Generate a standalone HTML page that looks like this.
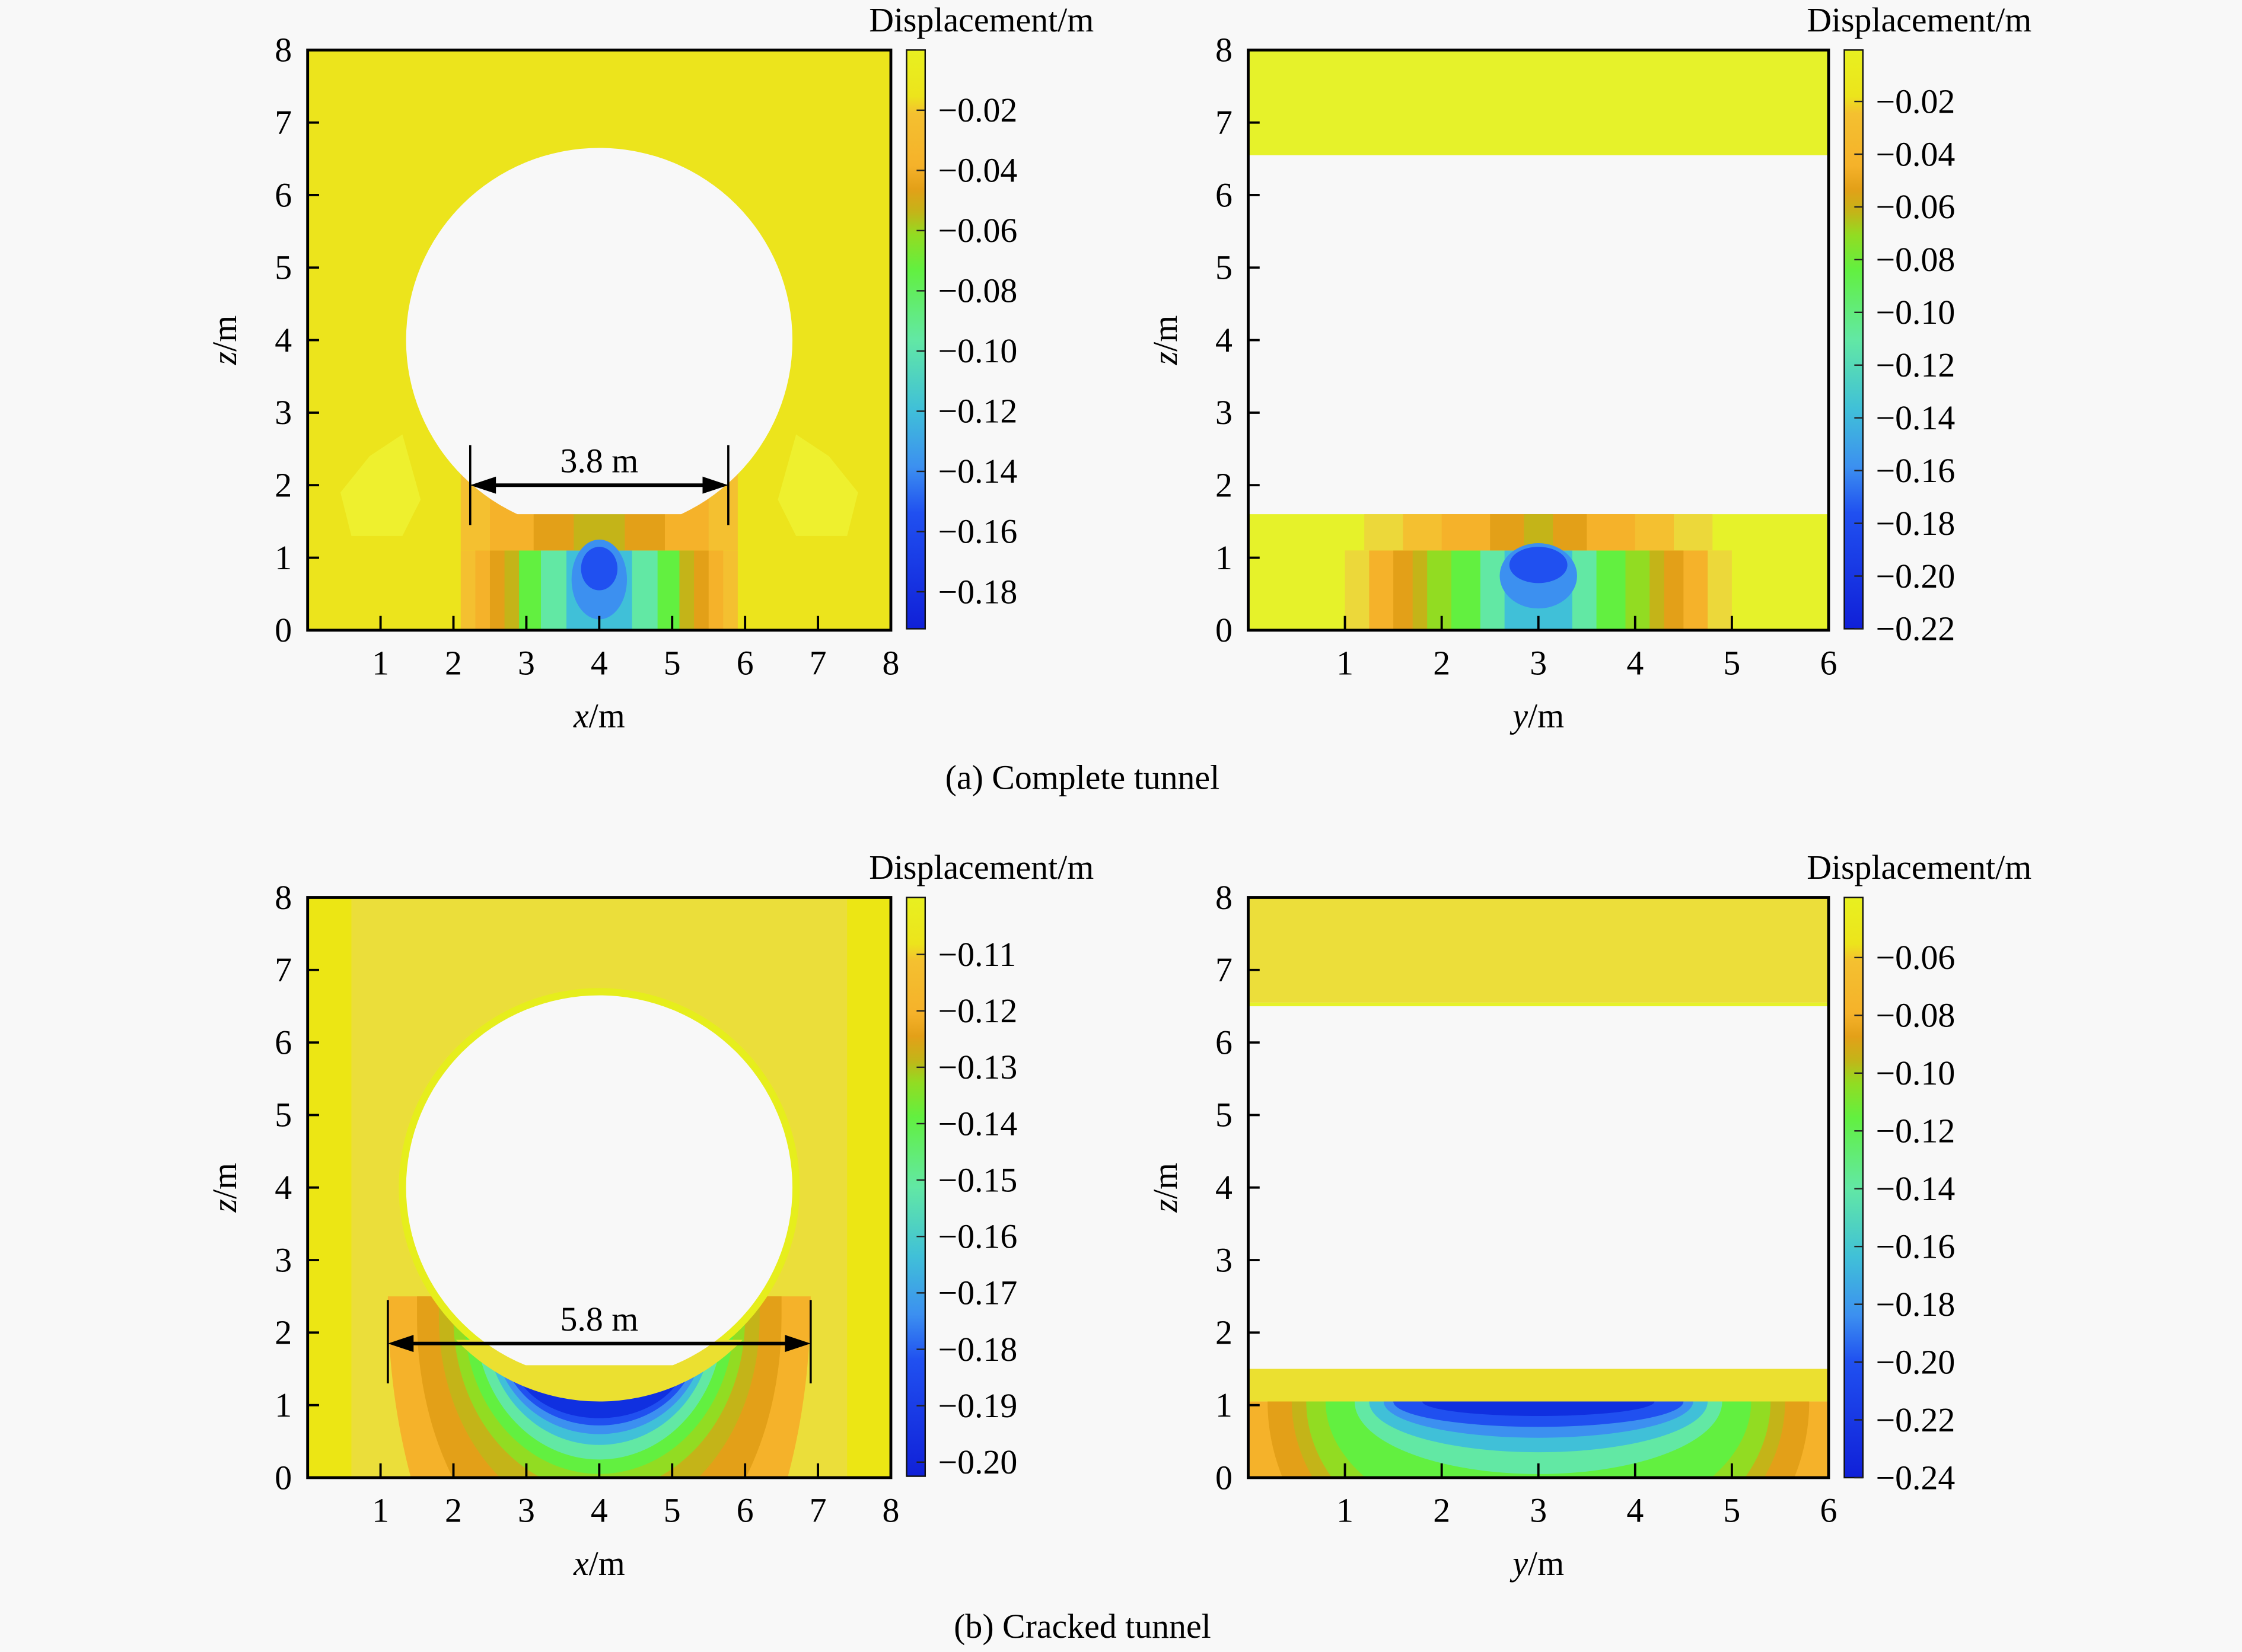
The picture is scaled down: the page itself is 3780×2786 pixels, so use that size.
<!DOCTYPE html>
<html><head><meta charset="utf-8"><style>
html,body{margin:0;padding:0;background:#f8f8f8;}
svg{display:block;}
svg text{font-family:"Liberation Serif","Times New Roman",serif;}
</style></head><body>
<svg id="fig" width="3780" height="2786" viewBox="0 0 1568 1156" xmlns="http://www.w3.org/2000/svg" font-family="Liberation Serif, serif">
<rect x="0" y="0" width="1568" height="1156" fill="#f8f8f8"/>
<defs id="defs"></defs>
<g id="root"></g>
<text x="757" y="552" font-size="24" text-anchor="middle" font-family="Liberation Serif, serif">(a) Complete tunnel</text>
<text x="757" y="1146" font-size="24" text-anchor="middle" font-family="Liberation Serif, serif">(b) Cracked tunnel</text>
</svg>
<script>
// ---- data ----
const xTicksX = [1,2,3,4,5,6,7,8];
const xTicksY = [1,2,3,4,5,6];
const zTicks = [0,1,2,3,4,5,6,7,8];
const cb1Ticks = [-0.02,-0.04,-0.06,-0.08,-0.10,-0.12,-0.14,-0.16,-0.18];
const cb2Ticks = [-0.02,-0.04,-0.06,-0.08,-0.10,-0.12,-0.14,-0.16,-0.18,-0.20,-0.22];
const cb3Ticks = [-0.11,-0.12,-0.13,-0.14,-0.15,-0.16,-0.17,-0.18,-0.19,-0.20];
const cb4Ticks = [-0.06,-0.08,-0.10,-0.12,-0.14,-0.16,-0.18,-0.20,-0.22,-0.24];
const cb1Range = [-0.1923, 0.0];
const cb2Range = [-0.22, -0.0005];
const cb3Range = [-0.2025, -0.0999];
const cb4Range = [-0.24, -0.0392];
const tunnel = [4.0, 4.0, 2.65];
const cutZa = 1.6, cutZb = 1.55;
const aLowHW = [1.9,1.7,1.5,1.3,1.1,0.8,0.45];
const aLowLv = [2,3,4,5,7,8,9];
const aUpHW = [1.9,1.5,0.9,0.35];
const aUpLv = [2,3,4,5];
const bLowHW = [2.0,1.75,1.5,1.3,1.15,0.9,0.6,0.35];
const bLowLv = [1,3,4,5,6,7,8,9];
const bUpHW = [1.8,1.4,1.0,0.5,0.15];
const bUpLv = [1,2,3,4,5];
const cHW = [2.9,2.5,2.2,2.0,1.85,1.7,1.55,1.45,1.35,1.2];
const cZc = [2.5,2.2,2.2,2.2,2.2,2.2,2.1,2.0,1.9,1.7];
const cBot = [-3,-1.5,-0.6,-0.2,0.05,0.25,0.45,0.6,0.72,0.82];
const cLv = [3,4,5,6,7,8,9,10,11,12];
const dHW = [2.8,2.55,2.4,2.2,1.9,1.75,1.6,1.5,1.2];
const dDepth = [3.2,2.6,2.3,1.8,1.0,0.7,0.5,0.35,0.2];
const dLv = [4,5,6,7,8,9,10,11,12];

const PAL = ['#ece41c','#ecd83a','#f4c030','#f5b22a','#e3a018','#c4b418','#92dc22','#62f040','#62e8a4','#40c0d8','#3c90f0','#2050f0','#1030e0'];
const CBSTOPS = [[0,'#e8f020'],[0.08,'#ece41c'],[0.11,'#f4c030'],[0.2,'#f5b22a'],[0.24,'#e3a018'],[0.28,'#c4b418'],[0.32,'#92dc22'],[0.38,'#62f040'],[0.5,'#62e8a4'],[0.62,'#40c0d8'],[0.72,'#3c90f0'],[0.8,'#2050f0'],[1,'#1020d8']];
const NS='http://www.w3.org/2000/svg';
const root=document.getElementById('root');
const defs=document.getElementById('defs');
function el(tag,attrs,parent){const e=document.createElementNS(NS,tag);for(const k in attrs)e.setAttribute(k,attrs[k]);if(tag==='text')e.setAttribute('font-family','Liberation Serif, serif');(parent||root).appendChild(e);return e;}

function makePanel(id,x0,x1,y0,y1,xmax){
  const sx=v=>x0+(x1-x0)*v/xmax, sz=v=>y1-(y1-y0)*v/8;
  const cp=el('clipPath',{id:'clip'+id},defs);el('rect',{x:x0,y:y0,width:x1-x0,height:y1-y0},cp);
  const g=el('g',{'clip-path':'url(#clip'+id+')'});
  
  
  return {sx,sz,g,x0,x1,y0,y1,xmax};
}
function rectD(p,xa,xb,za,zb,fill,parent){return el('rect',{x:p.sx(Math.min(xa,xb)),y:p.sz(Math.max(za,zb)),width:Math.abs(p.sx(xb)-p.sx(xa)),height:Math.abs(p.sz(zb)-p.sz(za)),fill:fill},parent||p.g);}
function axes(p,id,xt,xlabel){
  const f=el('rect',{x:p.x0,y:p.y0,width:p.x1-p.x0,height:p.y1-p.y0,fill:'none',stroke:'#000','stroke-width':2});
  
  
  xt.forEach(v=>{
    const l=el('line',{x1:p.sx(v),x2:p.sx(v),y1:p.y1,y2:p.y1-10,stroke:'#000','stroke-width':1.6});
    
    
    const t=el('text',{x:p.sx(v),y:p.y1+31,'font-size':24,'text-anchor':'middle'});t.textContent=v;
    
    
  });
  zTicks.forEach(v=>{
    const l=el('line',{x1:p.x0,x2:p.x0+8,y1:p.sz(v),y2:p.sz(v),stroke:'#000','stroke-width':1.6});
    
    
    const t=el('text',{x:p.x0-17,y:p.sz(v)+8,'font-size':24,'text-anchor':'middle'});t.textContent=v;
    
    
  });
  const xl=el('text',{x:(p.x0+p.x1)/2,y:p.y1+68,'font-size':24,'text-anchor':'middle'});
  xl.innerHTML='<tspan font-style="italic">'+xlabel+'</tspan>/m';
  
  
  const cy=(p.y0+p.y1)/2, cx=p.x0-50;
  const zl=el('text',{x:cx,y:cy,'font-size':24,'text-anchor':'middle',transform:'rotate(-90 '+cx+' '+cy+')'});
  zl.innerHTML='<tspan font-style="italic">z</tspan>/m';
  
  
}
function colorbar(id,bx,y0,y1,range,ticks){
  const gid='cbg'+id;
  const lg=el('linearGradient',{id:gid,x1:0,y1:0,x2:0,y2:1},defs);
  CBSTOPS.forEach(s=>el('stop',{offset:s[0],'stop-color':s[1]},lg));
  const r=el('rect',{x:bx,y:y0,width:13,height:y1-y0,fill:'url(#'+gid+')',stroke:'#111','stroke-width':1});
  
  
  const sv=v=>y1-(y1-y0)*(v-range[0])/(range[1]-range[0]);
  ticks.forEach(v=>{
    const y=sv(v);
    const l=el('line',{x1:bx+7,x2:bx+13,y1:y,y2:y,stroke:'#222','stroke-width':1});
    
    
    const t=el('text',{x:bx+22,y:y+8,'font-size':24});t.textContent='\u2212'+Math.abs(v).toFixed(2);
    
    
  });
  const tt=el('text',{x:bx+131,y:y0-13,'font-size':24,'text-anchor':'end'});tt.textContent='Displacement/m';
  
  
}
function whiteTunnel(p,cut,id){
  const cp=el('clipPath',{id:'tcut'+id},defs);
  rectD(p,0,p.xmax,cut,8,'#000',cp);
  const c=el('ellipse',{cx:p.sx(tunnel[0]),cy:p.sz(tunnel[1]),rx:p.sx(tunnel[2])-p.sx(0),ry:p.sz(0)-p.sz(tunnel[2]),fill:'#f8f8f8','clip-path':'url(#tcut'+id+')'},p.g);
  
  
}
function dim(p,xa,xb,z,zl0,zl1,label,id){
  [xa,xb].forEach(x=>{const l=el('line',{x1:p.sx(x),x2:p.sx(x),y1:p.sz(zl0),y2:p.sz(zl1),stroke:'#000','stroke-width':1.5});
    
    });
  const y=p.sz(z),a=p.sx(xa),b=p.sx(xb);
  const l=el('line',{x1:a+14,x2:b-14,y1:y,y2:y,stroke:'#000','stroke-width':2.5});
  
  
  const h1=el('polygon',{points:`${a},${y} ${a+18},${y-6} ${a+18},${y+6}`,fill:'#000'});
  
  
  const h2=el('polygon',{points:`${b},${y} ${b-18},${y-6} ${b-18},${y+6}`,fill:'#000'});
  
  
  const t=el('text',{x:(a+b)/2,y:y-9,'font-size':24,'text-anchor':'middle'});t.textContent=label;
  
  
}

// ---- panel a ----
const A=makePanel('a',215,623,35,441,8);
rectD(A,0,8,0,8,PAL[0]);
[[0.7,1],[7.3,-1]].forEach(c=>{
  const x=c[0],s=c[1];
  const pg=el('polygon',{points:`${A.sx(x-0.1*s)},${A.sz(1.3)} ${A.sx(x+0.6*s)},${A.sz(1.3)} ${A.sx(x+0.85*s)},${A.sz(1.8)} ${A.sx(x+0.6*s)},${A.sz(2.7)} ${A.sx(x+0.15*s)},${A.sz(2.4)} ${A.sx(x-0.25*s)},${A.sz(1.9)}`,fill:'#eef02e'},A.g);
  
  });
aLowHW.forEach((h,i)=>rectD(A,4-h,4+h,0,1.1,PAL[aLowLv[i]]));
aUpHW.forEach((h,i)=>rectD(A,4-h,4+h,1.1,2.3,PAL[aUpLv[i]]));
[[0.38,0.55,0.7,10],[0.25,0.3,0.85,11]].forEach(q=>{const e=el('ellipse',{cx:A.sx(4),cy:A.sz(q[2]),rx:A.sx(q[0])-A.sx(0),ry:A.sz(0)-A.sz(q[1]),fill:PAL[q[3]]},A.g);
  
  });
(function(){const cp=el('clipPath',{id:'outA'},defs);
  const R=tunnel[2]+0.2,rx=A.sx(R)-A.sx(0),ry=A.sz(0)-A.sz(R);
  el('path',{d:`M${A.sx(0)},${A.sz(8)}H${A.sx(8)}V${A.sz(1.1)}H${A.sx(0)}Z M${A.sx(tunnel[0]-R)},${A.sz(tunnel[1])} a${rx},${ry} 0 1,0 ${2*rx},0 a${rx},${ry} 0 1,0 ${-2*rx},0Z`,'clip-rule':'evenodd'},cp);
  const r=rectD(A,1.7,2.6,2.25,8,PAL[0]);r.setAttribute('clip-path','url(#outA)');
  const r2=rectD(A,5.4,6.3,2.25,8,PAL[0]);r2.setAttribute('clip-path','url(#outA)');})();
whiteTunnel(A,cutZa,'a');
axes(A,'a',xTicksX,'x');
dim(A,2.23,5.77,2.0,1.45,2.55,'3.8 m','a');
colorbar('a',634,35,440,cb1Range,cb1Ticks);

// ---- panel b ----
const B=makePanel('b',873,1279,35,441,6);
rectD(B,0,6,6.55,8,'#e6f22a');
rectD(B,0,6,0,1.6,'#e6f22a');
bLowHW.forEach((h,i)=>rectD(B,3-h,3+h,0,1.1,PAL[bLowLv[i]]));
bUpHW.forEach((h,i)=>rectD(B,3-h,3+h,1.1,1.6,PAL[bUpLv[i]]));
[[0.4,0.45,0.75,10],[0.3,0.25,0.9,11]].forEach(q=>{const e=el('ellipse',{cx:B.sx(3),cy:B.sz(q[2]),rx:B.sx(q[0])-B.sx(0),ry:B.sz(0)-B.sz(q[1]),fill:PAL[q[3]]},B.g);
  
  });
axes(B,'b',xTicksY,'y');
colorbar('b',1290,35,440,cb2Range,cb2Ticks);

// ---- panel c ----
const C=makePanel('c',215,623,628,1034,8);
rectD(C,0,8,0,8,'#ece614');
rectD(C,0.6,7.4,0,8,'#ebde3a');
cHW.forEach((h,i)=>{
  const xa=C.sx(4-h),xb=C.sx(4+h),yc=C.sz(cZc[i]),rx=(xb-xa)/2,ry=C.sz(cBot[i])-yc;
  const pth=el('path',{d:`M${xa},${C.sz(2.5)}V${yc}A${rx},${ry} 0 0,0 ${xb},${yc}V${C.sz(2.5)}Z`,fill:PAL[cLv[i]]},C.g);
  
  
});
(function(){const r=tunnel[2]+0.1;const e=el('ellipse',{cx:C.sx(4),cy:C.sz(4),rx:C.sx(r)-C.sx(0),ry:C.sz(0)-C.sz(r),fill:'#e6ee1c'},C.g);
  
  
  const cp=el('clipPath',{id:'capC'},defs);rectD(C,0,8,0,1.9,'#000',cp);
  const r2=tunnel[2]+0.3;
  const cap=el('ellipse',{cx:C.sx(4),cy:C.sz(4.0),rx:C.sx(r2-0.15)-C.sx(0),ry:C.sz(0)-C.sz(r2),fill:'#ebe030','clip-path':'url(#capC)'},C.g);
  
  })();
whiteTunnel(C,cutZb,'c');
axes(C,'c',xTicksX,'x');
dim(C,1.1,6.9,1.85,1.3,2.45,'5.8 m','c');
colorbar('c',634,628,1033,cb3Range,cb3Ticks);

// ---- panel d ----
const D=makePanel('d',873,1279,628,1034,6);
rectD(D,0,6,6.55,8,'#ecde3a');
rectD(D,0,6,6.5,6.55,'#e6f22a');
rectD(D,0,6,1.05,1.5,'#ebe030');
rectD(D,0,6,0,1.05,PAL[3]);
(function(){const cp=el('clipPath',{id:'dlow'},defs);rectD(D,0,6,0,1.05,'#000',cp);
  const g=el('g',{'clip-path':'url(#dlow)'},D.g);
  dHW.forEach((h,i)=>{const e=el('ellipse',{cx:D.sx(3),cy:D.sz(1.05),rx:D.sx(h)-D.sx(0),ry:D.sz(0)-D.sz(dDepth[i]),fill:PAL[dLv[i]]},g);
    
    });})();
axes(D,'d',xTicksY,'y');
colorbar('d',1290,628,1034,cb4Range,cb4Ticks);
</script>
</body></html>
